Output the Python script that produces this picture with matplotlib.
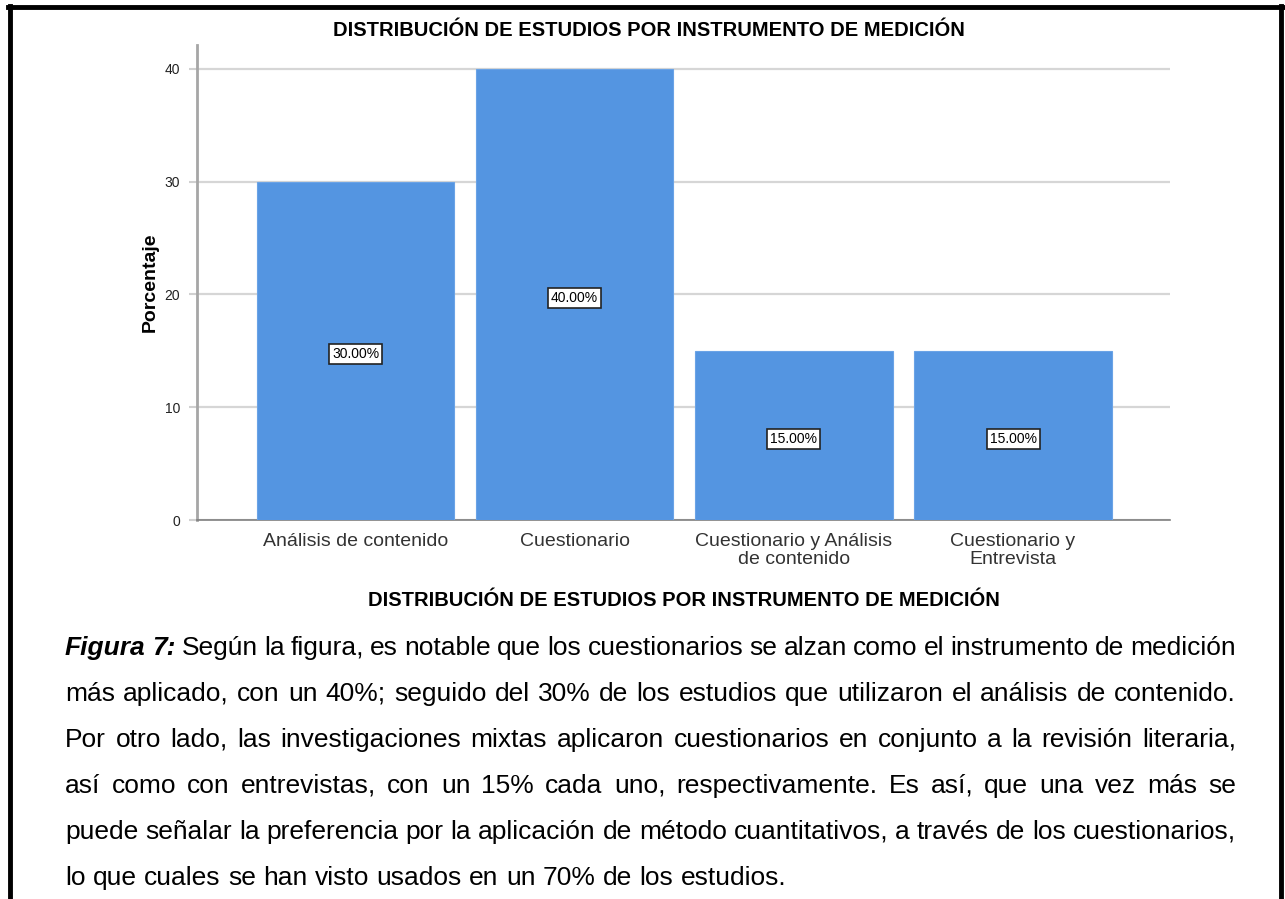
import matplotlib
matplotlib.use("Agg")
import numpy as np
import matplotlib.pyplot as plt
from matplotlib.lines import Line2D

plt.rcParams['font.family'] = ['Liberation Sans', 'DejaVu Sans']

categorias = ["Análisis de contenido", "Cuestionario",
              "Cuestionario y Análisis\nde contenido", "Cuestionario y\nEntrevista"]
porcentajes = [30.0, 40.0, 15.0, 15.0]
yticks = [0, 10, 20, 30, 40]
titulo = "DISTRIBUCIÓN DE ESTUDIOS POR INSTRUMENTO DE MEDICIÓN"
caption_lines = [
    "Figura 7: Según la figura, es notable que los cuestionarios se alzan como el instrumento de medición",
    "más aplicado, con un 40%; seguido del 30% de los estudios que utilizaron el análisis de contenido.",
    "Por otro lado, las investigaciones mixtas aplicaron cuestionarios en conjunto a la revisión literaria,",
    "así como con entrevistas, con un 15% cada uno, respectivamente. Es así, que una vez más se",
    "puede señalar la preferencia por la aplicación de método cuantitativos, a través de los cuestionarios,",
    "lo que cuales se han visto usados en un 70% de los estudios.",
]

W, H = 1285, 899
fig = plt.figure(figsize=(W / 100, H / 100), dpi=100)
fig.patch.set_facecolor('white')

def fx(px): return px / W
def fy(py): return 1 - py / H

ax = fig.add_axes([fx(197), fy(520), fx(1170) - fx(197), fy(45) - fy(520)])
x = np.arange(len(categorias))
ax.bar(x, porcentajes, width=0.9, color='#5495e1', edgecolor='#6aa3e6', linewidth=0.8, zorder=3)
ax.set_xlim(-0.723, 3.716)
ax.set_ylim(0, 42.1)
ax.set_yticks(yticks)
ax.set_yticklabels([str(v) for v in yticks], fontsize=10, color='#222222')
ax.set_xticks(x)
ax.set_xticklabels(categorias, fontsize=14, color='#333333', linespacing=1.1)
ax.tick_params(axis='x', length=0, pad=9)
ax.tick_params(axis='y', length=6, width=1.5, color='#d0d0d0', pad=6)
ax.grid(axis='y', color='#d6d6d6', linewidth=1.6, zorder=0)
for s in ['top', 'right']:
    ax.spines[s].set_visible(False)
ax.spines['left'].set_color('#a6a6a6')
ax.spines['left'].set_linewidth(2)
ax.spines['bottom'].set_color('#7f7f7f')
ax.spines['bottom'].set_linewidth(1.2)

for xi, v in zip(x, porcentajes):
    ax.text(xi, v / 2 - 0.3, f"{v:.2f}%", ha='center', va='center', fontsize=10, color='black',
            bbox=dict(boxstyle='square,pad=0.22', facecolor='white', edgecolor='#222222', linewidth=1.2),
            zorder=5)

ax.set_ylabel("Porcentaje", fontsize=14, fontweight='bold', labelpad=4)
fig.text(fx(649), fy(30), titulo, ha='center', va='center', fontsize=14.5, fontweight='bold')
fig.text(fx(684), fy(601), titulo, ha='center', va='center', fontsize=14.5, fontweight='bold')

# caption, justified by hand
cap_size = 19
L, R = 65, 1236
renderer = fig.canvas.get_renderer()
space_px = 0.278 * cap_size * 100 / 72
y0, dy = 655, 46   # baselines
for i, line in enumerate(caption_lines):
    words = line.split(' ')
    texts = []
    for j, w in enumerate(words):
        bold = (i == 0 and j < 2)
        t = fig.text(0, fy(y0 + i * dy), w, ha='left', va='baseline', fontsize=cap_size,
                     fontweight='bold' if bold else 'normal',
                     fontstyle='italic' if bold else 'normal', color='black')
        texts.append(t)
    widths = [t.get_window_extent(renderer).width for t in texts]
    if i < len(caption_lines) - 1:
        gap = (R - L - sum(widths)) / (len(words) - 1)
        gap = max(gap, 0.3 * space_px)
    else:
        gap = space_px
    xpos = L
    for t, wd in zip(texts, widths):
        t.set_x(fx(xpos))
        xpos += wd + gap

# page frame
fig.add_artist(Line2D([fx(8), fx(1283)], [fy(7), fy(7)], color='black', lw=3.5))
fig.add_artist(Line2D([fx(10), fx(10)], [fy(6), fy(905)], color='black', lw=3.5))
fig.add_artist(Line2D([fx(1281), fx(1281)], [fy(6), fy(905)], color='black', lw=3.5))

fig.savefig("out.png", dpi=100)
